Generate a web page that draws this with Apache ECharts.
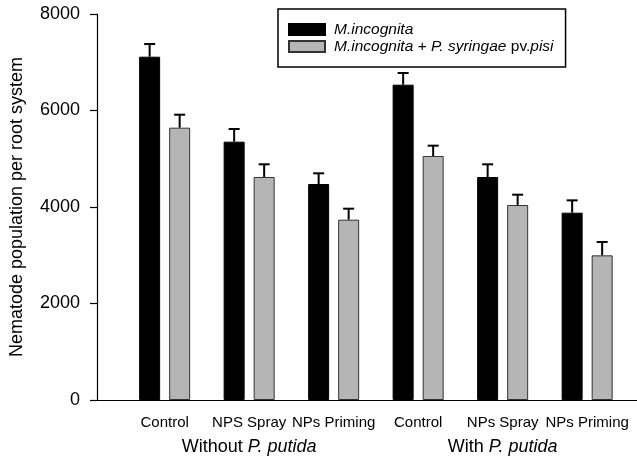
<!DOCTYPE html>
<html>
<head>
<meta charset="utf-8">
<script src="https://cdn.jsdelivr.net/npm/echarts@6/dist/echarts.min.js"></script>
<style>html,body{margin:0;padding:0;background:#fff;}#c{width:637px;height:461px;}</style>
</head>
<body>
<div id="c"></div>
<script>
var categories = ['Control', 'NPS Spray', 'NPs Priming', 'Control', 'NPs Spray', 'NPs Priming'];
var groups = ['Without P. putida', 'With P. putida'];
var seriesNames = ['M.incognita', 'M.incognita + P. syringae pv.pisi'];
var mIncognita = [7115, 5354, 4477, 6535, 4622, 3882];
var mIncognitaErr = [263, 263, 221, 242, 263, 256];
var mIncPs = [5644, 4622, 3737, 5057, 4041, 2998];
var mIncPsErr = [269, 263, 228, 214, 214, 277];
var yTicks = [0, 2000, 4000, 6000, 8000];

var chart = echarts.init(document.getElementById('c'));
var FONT = 'Liberation Sans, Arial, sans-serif';

function errSeries(vals, errs, offset) {
  return {
    type: 'custom', xAxisIndex: 1, yAxisIndex: 1, silent: true, z: 5,
    data: vals.map(function (v, i) { return [i, v, v + errs[i]]; }),
    renderItem: function (params, api) {
      var b = api.coord([api.value(0), api.value(1)]);
      var t = api.coord([api.value(0), api.value(2)]);
      var x = b[0] + offset;
      var hw = 5.5;
      return {
        type: 'group',
        children: [
          { type: 'line', shape: { x1: x, y1: b[1], x2: x, y2: t[1] }, style: { stroke: '#000', lineWidth: 2 } },
          { type: 'line', shape: { x1: x - hw, y1: t[1], x2: x + hw, y2: t[1] }, style: { stroke: '#000', lineWidth: 2 } }
        ]
      };
    }
  };
}

chart.setOption({
  animation: false,
  backgroundColor: '#fff',
  textStyle: { fontFamily: FONT, color: '#000' },
  legend: {
    left: 278, top: 9, orient: 'vertical',
    data: seriesNames,
    itemWidth: 36, itemHeight: 11, itemGap: 0,
    padding: [12, 12, 12, 10],
    borderColor: '#000', borderWidth: 1.5,
    icon: 'rect',
    formatter: function (name) {
      if (name === seriesNames[1]) return '{i|M.incognita + P. syringae} {n|pv.}{i|pisi}';
      return '{i|' + name + '}';
    },
    textStyle: {
      fontFamily: FONT, fontSize: 15.5, color: '#000', lineHeight: 17, padding: [0, 0, 0, 4],
      rich: {
        i: { fontStyle: 'italic', fontSize: 15.5, fontFamily: FONT, color: '#000', lineHeight: 17 },
        n: { fontSize: 15.5, fontFamily: FONT, color: '#000', lineHeight: 17 }
      }
    }
  },
  grid: [
    { left: 97, right: 0, top: 14, bottom: 61 },
    { left: 122.4, right: 7.6, top: 14, bottom: 61 }
  ],
  xAxis: [
    { gridIndex: 0, type: 'value', min: 0, max: 1, axisLine: { show: true, onZero: false, lineStyle: { color: '#000', width: 1.2 } }, axisTick: { show: false }, axisLabel: { show: false }, splitLine: { show: false } },
    { gridIndex: 1, type: 'category', data: categories, axisLine: { show: false }, axisTick: { show: false },
      axisLabel: { fontSize: 15, color: '#000', margin: 15, fontFamily: FONT, interval: 0 } },
    { gridIndex: 1, type: 'category', data: groups, position: 'bottom', axisLine: { show: false }, axisTick: { show: false },
      axisLabel: { fontSize: 18, color: '#000', margin: 38, fontFamily: FONT, interval: 0,
        formatter: function (v) { var p = v.split('P. putida'); return '{n|' + p[0] + '}{i|P. putida}'; },
        rich: { n: { fontSize: 18, fontFamily: FONT, color: '#000' }, i: { fontSize: 18, fontFamily: FONT, color: '#000', fontStyle: 'italic' } } } }
  ],
  yAxis: [
    { gridIndex: 0, type: 'value', min: 0, max: 8000, interval: 2000,
      name: 'Nematode population per root system', nameLocation: 'middle', nameGap: 71, nameRotate: 90,
      nameTextStyle: { fontSize: 18, color: '#000', fontFamily: FONT },
      axisLine: { show: true, lineStyle: { color: '#000', width: 1.2 } },
      axisTick: { show: true, length: 7, lineStyle: { color: '#000', width: 1.2 } },
      axisLabel: { fontSize: 18, color: '#000', margin: 17, fontFamily: FONT,
        formatter: function (v) { return yTicks.indexOf(v) >= 0 ? String(v) : ''; } },
      splitLine: { show: false } },
    { gridIndex: 1, type: 'value', min: 0, max: 8000, interval: 2000, show: false, splitLine: { show: false } }
  ],
  series: [
    { name: seriesNames[0], type: 'bar', xAxisIndex: 1, yAxisIndex: 1, data: mIncognita, barWidth: 21, barGap: '43%',
      itemStyle: { color: '#000', borderColor: '#000', borderWidth: 1 } },
    { name: seriesNames[1], type: 'bar', xAxisIndex: 1, yAxisIndex: 1, data: mIncPs, barWidth: 21, barGap: '43%',
      itemStyle: { color: '#b5b5b5', borderColor: '#333', borderWidth: 1 } },
    errSeries(mIncognita, mIncognitaErr, -15),
    errSeries(mIncPs, mIncPsErr, 15)
  ]
});
</script>
</body>
</html>
